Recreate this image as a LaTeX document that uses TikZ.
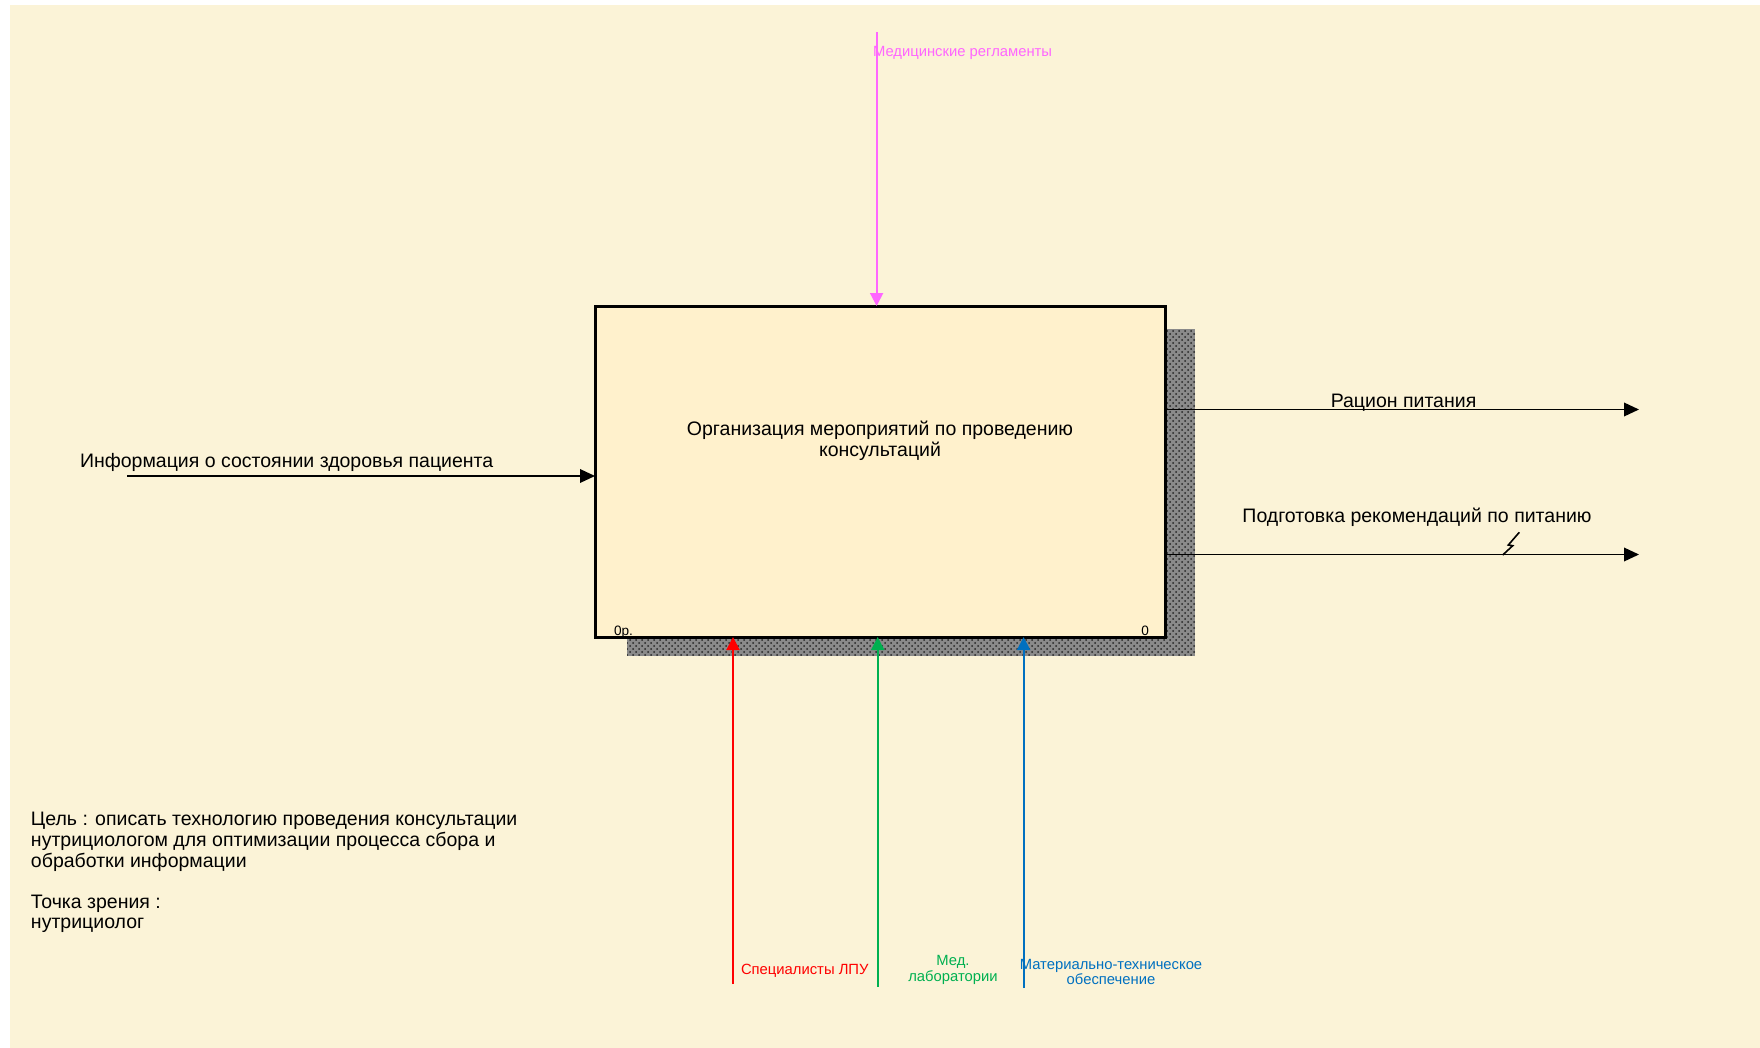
\documentclass[tikz,border=0pt]{standalone}
\usepackage{fontspec}
\setmainfont{Liberation Sans}
\usetikzlibrary{arrows.meta,patterns}

\definecolor{bgcol}{HTML}{FBF3D7}
\definecolor{boxcol}{HTML}{FFF1CC}
\definecolor{ctlcol}{HTML}{FF66FF}
\definecolor{mechred}{HTML}{FF0000}
\definecolor{mechgreen}{HTML}{00B050}
\definecolor{mechblue}{HTML}{0070C0}
\definecolor{shadowcol}{HTML}{8A8A8A}

\begin{document}
\begin{tikzpicture}[x=0.5pt,y=-0.5pt,
  every node/.style={inner sep=0pt, outer sep=0pt},
  bigtext/.style={font=\fontsize{9.75}{10.3}\selectfont},
  smalltext/.style={font=\fontsize{7.4}{7.75}\selectfont, align=center},
  flow/.style={line width=0.8pt, -{Triangle[length=7.5pt,width=6.8pt]}},
  tintflow/.style={line width=1pt, draw=#1, -{Triangle[length=6.5pt,width=6.5pt]}},
  activity/.style={draw, line width=1.5pt, fill=boxcol,
    minimum width=285pt, minimum height=165.5pt}
]
% canvas
\useasboundingbox (0,0) rectangle (1760,1048);
\fill[bgcol] (10,5) rectangle (1760,1048);

% drop shadow of the activity box
\fill[shadowcol] (627,329) rectangle (1195,656);
\fill[pattern=crosshatch dots, pattern color=black!85] (627,329) rectangle (1195,656);

% activity box
\node[activity] (act) at (880,471.5) {};
\node[bigtext, align=center] (acttitle) at (880,440.5)
  {Организация мероприятий по проведению\\консультаций};
\node[font=\fontsize{6.8}{7}\selectfont, anchor=base west] (nodeid) at (614,635) {0р.};
\node[font=\fontsize{6.8}{7}\selectfont, anchor=base east] (nodenum) at (1149,635) {0};

% input
\coordinate (inSrc) at (127,476);
\draw[flow] (inSrc) -- (act.west |- inSrc);
\node[bigtext, anchor=base west] (inLbl) at (80,467)
  {Информация о состоянии здоровья пациента};

% outputs
\coordinate (outA) at (1639,409.5);
\coordinate (outB) at (1639,554.5);
\draw[flow] (act.east |- outA) -- (outA);
\draw[flow] (act.east |- outB) -- (outB);
\node[bigtext, anchor=base] (outALbl) at (1403.5,407) {Рацион питания};
\node[bigtext, anchor=base] (outBLbl) at (1417,522)
  {Подготовка рекомендаций по питанию};
\draw[line width=0.8pt] (1519.3,532.3) -- (1508.3,545) -- (1512.7,545.7) -- (1502.7,555);

% control
\coordinate (ctlSrc) at (876.6,32.5);
\draw[tintflow=ctlcol] (ctlSrc) -- (act.north -| ctlSrc);
\node[smalltext, text=ctlcol, anchor=base west] (ctlLbl) at (873,57)
  {Медицинские регламенты};

% mechanisms
\coordinate (mechA) at (733,984);
\coordinate (mechB) at (877.7,986.5);
\coordinate (mechC) at (1023.6,988);
\draw[tintflow=mechred] (mechA) -- (act.south -| mechA);
\draw[tintflow=mechgreen] (mechB) -- (act.south -| mechB);
\draw[tintflow=mechblue] (mechC) -- (act.south -| mechC);
\node[smalltext, text=mechred, anchor=base west] (mechALbl) at (741,974)
  {Специалисты ЛПУ};
\node[smalltext, text=mechgreen] (mechBLbl) at (953,970)
  {Мед.\\лаборатории};
\node[smalltext, text=mechblue] (mechCLbl) at (1111,972)
  {Материально-техническое\\обеспечение};

% purpose and viewpoint
\node[bigtext, align=left, anchor=north west] (purpose) at (31,812.5)
  {Цель : описать технологию проведения консультации\\
   нутрициологом для оптимизации процесса сбора и\\
   обработки информации\\[10.3pt]
   Точка зрения :\\
   нутрициолог};
\end{tikzpicture}
\end{document}
